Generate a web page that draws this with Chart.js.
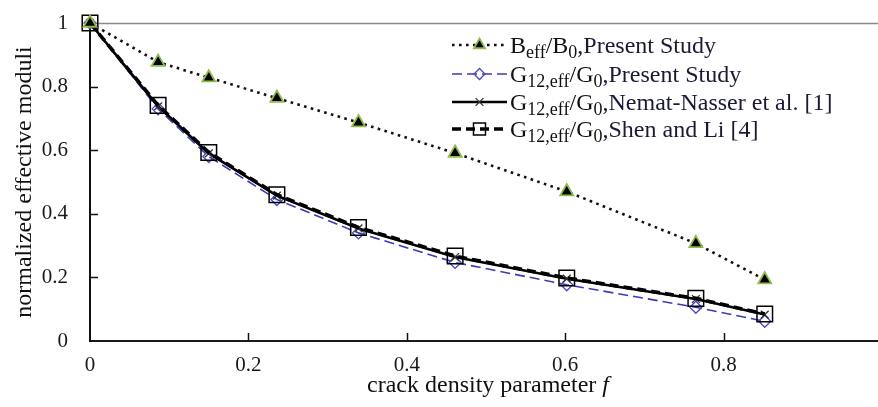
<!DOCTYPE html>
<html>
<head>
<meta charset="utf-8">
<script src="https://cdn.jsdelivr.net/npm/chart.js@4.4.0/dist/chart.umd.min.js"></script>
<style>
  html, body { margin: 0; padding: 0; background: #fff; overflow: hidden; }
  #wrap { position: relative; width: 878px; height: 407px; }
</style>
</head>
<body>
<div id="wrap"><canvas id="c"></canvas></div>
<script>
// Crack density parameter f and normalized moduli
const crackDensity     = [0, 0.086, 0.150, 0.236, 0.339, 0.461, 0.602, 0.765, 0.852];
const bulkPresent      = [1, 0.877, 0.828, 0.764, 0.687, 0.591, 0.470, 0.307, 0.193];
const shearPresent     = [1, 0.730, 0.580, 0.445, 0.340, 0.247, 0.177, 0.106, 0.062];
const shearNematNasser = [1, 0.738, 0.590, 0.457, 0.354, 0.264, 0.196, 0.132, 0.083];
const shearShenLi      = [1, 0.741, 0.593, 0.460, 0.357, 0.267, 0.198, 0.134, 0.085];

const xTickValues = [0, 0.2, 0.4, 0.6, 0.8];
const yTickValues = [0, 0.2, 0.4, 0.6, 0.8, 1];

const xTitleParts = [['crack density parameter ', 'normal'], ['f', 'italic']];
const yTitleText  = 'normalized effective moduli';

// Legend labels as rich-text runs: [text, kind]
const legendLabels = [
  [['B', ''], ['eff', 'sub'], ['/B', ''], ['0', 'sub'], [',Present Study', 'note']],
  [['G', ''], ['12,eff', 'sub'], ['/G', ''], ['0', 'sub'], [',Present Study', 'note']],
  [['G', ''], ['12,eff', 'sub'], ['/G', ''], ['0', 'sub'], [',Nemat-Nasser et al. [1]', 'note']],
  [['G', ''], ['12,eff', 'sub'], ['/G', ''], ['0', 'sub'], [',Shen and Li [4]', 'note']]
];

const SERIF = '"Liberation Serif", "Times New Roman", serif';
const toPoints = (ys) => crackDensity.map((x, i) => ({ x: x, y: ys[i] }));
const fmtTick = (v) => String(Math.round(v * 10) / 10);
const noEdgePadding = (s) => { s.paddingTop = 0; s.paddingBottom = 0; s.paddingLeft = 0; s.paddingRight = 0; };

const datasets = [
  {
    data: toPoints(bulkPresent),
    borderColor: '#111', borderWidth: 2.6, borderDash: [2.6, 4.4],
    pointStyle: 'triangle', pointRadius: 7.5,
    pointBackgroundColor: '#000', pointBorderColor: '#8fbb4c', pointBorderWidth: 1.8,
    order: 1
  },
  {
    data: toPoints(shearPresent),
    borderColor: '#3b3bb6', borderWidth: 1.6, borderDash: [10, 5],
    pointStyle: 'rectRot', pointRadius: 6,
    pointBackgroundColor: 'rgba(0,0,0,0)', pointBorderColor: '#4848c4', pointBorderWidth: 1.3,
    order: 4
  },
  {
    data: toPoints(shearNematNasser),
    borderColor: '#000', borderWidth: 2.6,
    pointStyle: 'crossRot', pointRadius: 5.5,
    pointBackgroundColor: 'rgba(0,0,0,0)', pointBorderColor: '#333', pointBorderWidth: 1.3,
    order: 3
  },
  {
    data: toPoints(shearShenLi),
    borderColor: '#000', borderWidth: 3.6, borderDash: [9, 5],
    pointStyle: 'rect', pointRadius: 11,
    pointBackgroundColor: 'rgba(0,0,0,0)', pointBorderColor: '#000', pointBorderWidth: 1.5,
    order: 2
  }
];
datasets.forEach(d => { d.tension = 0; d.fill = false; d.clip = false; });

// Inner tick marks, frame line, x-axis title and the legend
const frameMarks = {
  id: 'frameMarks',
  beforeDatasetsDraw(chart) {
    const { ctx, chartArea: a, scales } = chart;
    ctx.save();
    ctx.strokeStyle = '#8a8a8a';
    ctx.lineWidth = 1.5;
    ctx.beginPath();
    ctx.moveTo(a.left, a.top + 0.5);
    ctx.lineTo(chart.width, a.top + 0.5);
    ctx.stroke();

    ctx.strokeStyle = '#111';
    ctx.lineWidth = 1.5;
    ctx.beginPath();
    yTickValues.forEach(v => {
      if (v <= 0 || v >= 1) return;
      const y = Math.round(scales.y.getPixelForValue(v)) + 0.5;
      ctx.moveTo(a.left, y);
      ctx.lineTo(a.left + 8, y);
    });
    xTickValues.forEach(v => {
      if (v <= 0) return;
      const x = Math.round(scales.x.getPixelForValue(v)) + 0.5;
      ctx.moveTo(x, a.bottom);
      ctx.lineTo(x, a.bottom - 8);
    });
    ctx.stroke();
    ctx.restore();
  },
  afterDraw(chart) {
    const { ctx, chartArea: a } = chart;
    ctx.save();
    // x-axis title with italic f
    const size = 24;
    let total = 0;
    const fonts = xTitleParts.map(([t, k]) => {
      const f = (k === 'italic' ? 'italic ' : '') + size + 'px ' + SERIF;
      ctx.font = f;
      const w = ctx.measureText(t).width;
      total += w;
      return [t, f, w];
    });
    let x = (a.left + a.right) / 2 - total / 2 + 4;
    ctx.fillStyle = '#111';
    ctx.textBaseline = 'alphabetic';
    fonts.forEach(([t, f, w]) => { ctx.font = f; ctx.fillText(t, x, 392); x += w; });

    // legend
    const lineX0 = 452, lineX1 = 507, textX = 510;
    const rowY = [45, 74, 102, 129];
    legendLabels.forEach((runs, i) => {
      const ds = chart.data.datasets[i];
      const y = rowY[i];
      ctx.save();
      ctx.strokeStyle = ds.borderColor;
      ctx.lineWidth = ds.borderWidth;
      ctx.setLineDash(ds.borderDash || []);
      ctx.beginPath();
      ctx.moveTo(lineX0, y);
      ctx.lineTo(lineX1, y);
      ctx.stroke();
      ctx.setLineDash([]);
      ctx.fillStyle = ds.pointBackgroundColor;
      ctx.strokeStyle = ds.pointBorderColor;
      ctx.lineWidth = ds.pointBorderWidth;
      Chart.helpers.drawPoint(ctx, {
        pointStyle: ds.pointStyle,
        radius: ds.pointStyle === 'rect' ? 8.5 : (ds.pointStyle === 'triangle' ? 6.5 : 5.5),
        rotation: 0,
        borderWidth: ds.pointBorderWidth
      }, (lineX0 + lineX1) / 2, y);
      ctx.restore();

      let tx = textX;
      const base = y + 8;
      runs.forEach(([t, k]) => {
        const fs = k === 'sub' ? 18 : 24;
        ctx.font = fs + 'px ' + SERIF;
        ctx.fillStyle = k === 'note' ? '#1a1a34' : '#111';
        ctx.fillText(t, tx, k === 'sub' ? base + 5 : base);
        tx += ctx.measureText(t).width;
      });
    });
    ctx.restore();
  }
};

new Chart(document.getElementById('c'), {
  type: 'line',
  data: { datasets: datasets },
  plugins: [frameMarks],
  options: {
    responsive: true,
    maintainAspectRatio: false,
    animation: false,
    layout: { autoPadding: false, padding: { top: 23, right: 0, left: 0, bottom: 0 } },
    plugins: { legend: { display: false }, tooltip: { enabled: false } },
    scales: {
      x: {
        type: 'linear', min: 0, max: 0.995,
        afterBuildTicks(s) { s.ticks = xTickValues.map(v => ({ value: v })); },
        afterFit(s) { s.height = 66; noEdgePadding(s); },
        grid: { display: false, drawTicks: false, tickLength: 0 },
        border: { display: true, color: '#1a1a1a', width: 2 },
        ticks: { color: '#1a1a1a', padding: 12, font: { family: SERIF, size: 21 }, maxRotation: 0, callback: fmtTick }
      },
      y: {
        type: 'linear', min: 0, max: 1,
        afterBuildTicks(s) { s.ticks = yTickValues.map(v => ({ value: v })); },
        afterFit(s) { s.width = 90; noEdgePadding(s); },
        grid: { display: false, drawTicks: false, tickLength: 0 },
        border: { display: true, color: '#111', width: 2 },
        ticks: { color: '#1a1a1a', padding: 22, font: { family: SERIF, size: 21 }, callback: fmtTick },
        title: {
          display: true, text: yTitleText, color: '#111',
          font: { family: SERIF, size: 24 }, padding: { top: 10, bottom: 0 }
        }
      }
    }
  }
});
</script>
</body>
</html>
